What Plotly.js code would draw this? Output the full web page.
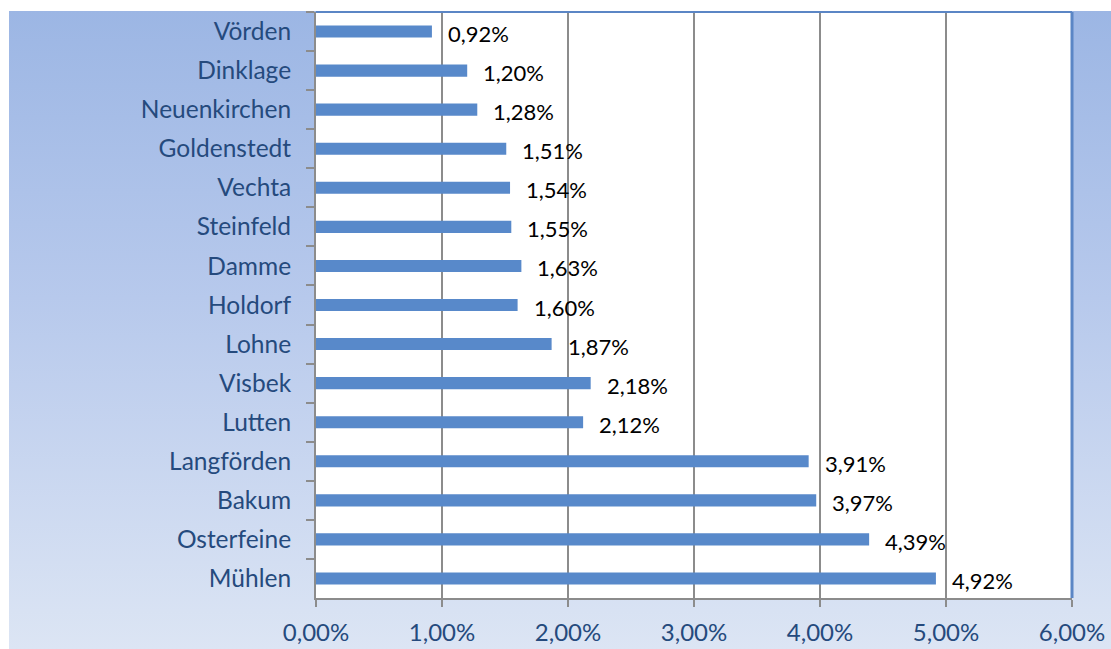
<!DOCTYPE html>
<html>
<head>
<meta charset="utf-8">
<script src="https://cdn.plot.ly/plotly-3.0.1.min.js"></script>
<style>
  html, body { margin:0; padding:0; background:#ffffff; }
  #bg { position:absolute; left:9px; top:11px; width:1102px; height:638px;
        background: linear-gradient(to bottom, #9cb6e4 0%, #b7c9ec 45%, #dce5f4 100%); }
  #chart { position:absolute; left:0; top:0; width:1111px; height:649px; }
</style>
</head>
<body>
<div id="bg"></div>
<div id="chart"></div>
<script>
const categories = ["Vörden","Dinklage","Neuenkirchen","Goldenstedt","Vechta","Steinfeld","Damme","Holdorf","Lohne","Visbek","Lutten","Langförden","Bakum","Osterfeine","Mühlen"];
const shares = [0.0092,0.0120,0.0128,0.0151,0.0154,0.0155,0.0163,0.0160,0.0187,0.0218,0.0212,0.0391,0.0397,0.0439,0.0492];
const xTicks = [0,0.01,0.02,0.03,0.04,0.05,0.06];

const labelColor = "#254a7d";
const fontFam = "Lato, 'Noto Sans', sans-serif";

const trace = {
  type: "bar",
  orientation: "h",
  x: shares,
  y: categories,
  width: 0.31,
  marker: { color: "#5889ca", line: { width: 0 } },
  hoverinfo: "skip"
};

const annotations = shares.map((v, i) => ({
  x: v, y: categories[i], xref: "x", yref: "y",
  text: (v * 100).toFixed(2).replace(".", ",") + "%",
  showarrow: false, xanchor: "left", yanchor: "middle", xshift: 14, yshift: -2,
  font: { family: fontFam, size: 22, color: "#000000" }
}));

const layout = {
  width: 1111, height: 649,
  margin: { l: 316, r: 39, t: 12, b: 51, pad: 0 },
  paper_bgcolor: "rgba(0,0,0,0)",
  plot_bgcolor: "#ffffff",
  separators: ",.",
  showlegend: false,
  xaxis: {
    range: [0, 0.06],
    tickvals: xTicks,
    tickformat: ".2%",
    showgrid: true, gridcolor: "#8c8c8c", gridwidth: 1.5,
    zeroline: false,
    showline: true, linecolor: "#8c8c8c", linewidth: 2,
    ticks: "outside", ticklen: 7, tickwidth: 2, tickcolor: "#8c8c8c",
    tickfont: { family: fontFam, size: 24, color: labelColor },
    ticklabelstandoff: 5,
    fixedrange: true
  },
  yaxis: {
    type: "category",
    autorange: "reversed",
    tickson: "boundaries",
    ticks: "outside", ticklen: 8, tickwidth: 2, tickcolor: "#8c8c8c",
    showline: true, linecolor: "#8c8c8c", linewidth: 2,
    showgrid: false, zeroline: false,
    tickfont: { family: fontFam, size: 24.5, color: labelColor },
    ticklabelstandoff: 18,
    fixedrange: true
  },
  annotations: annotations,
  shapes: [
    { type: "line", xref: "paper", yref: "paper", x0: 0, x1: 1, y0: 1, y1: 1,
      line: { color: "#5b86c5", width: 2 } },
    { type: "line", xref: "paper", yref: "paper", x0: 1, x1: 1, y0: 0, y1: 1,
      line: { color: "#5b86c5", width: 3 } }
  ]
};

Plotly.newPlot("chart", [trace], layout, { displayModeBar: false, staticPlot: true });
</script>
</body>
</html>
